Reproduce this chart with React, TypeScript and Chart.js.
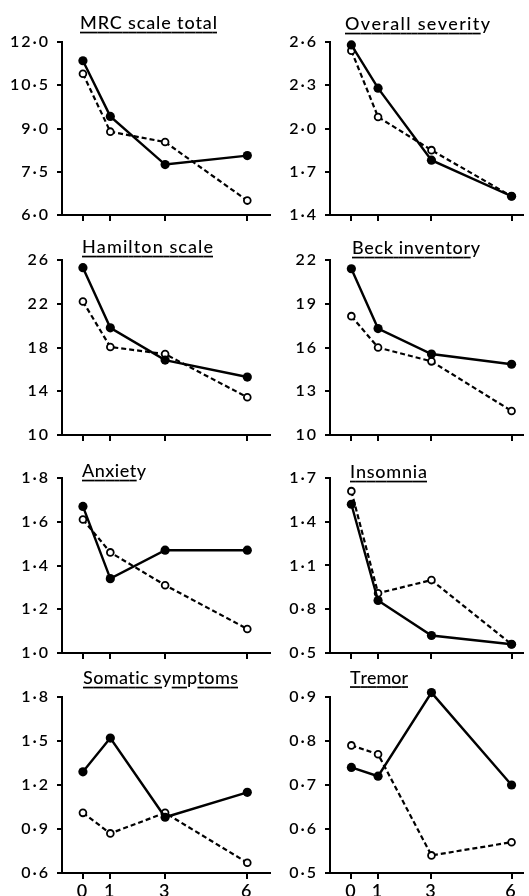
import React, { useEffect, useRef } from "react";
import { Chart, registerables } from "chart.js";

Chart.register(...registerables);

// ---------- data ----------
const months = [0, 1, 3, 6];
const monthLabels = ["0", "1", "3", "6"];

const mrcFilled = [11.35, 9.42, 7.75, 8.06];
const mrcOpen = [10.9, 8.89, 8.53, 6.5];
const mrcTicks = [6, 7.5, 9, 10.5, 12];
const mrcTickLabels = ["6·0", "7·5", "9·0", "10·5", "12·0"];

const severityFilled = [2.58, 2.28, 1.78, 1.53];
const severityOpen = [2.54, 2.08, 1.85, 1.53];
const severityTicks = [1.4, 1.7, 2.0, 2.3, 2.6];
const severityTickLabels = ["1·4", "1·7", "2·0", "2·3", "2·6"];

const hamiltonFilled = [25.3, 19.8, 16.85, 15.3];
const hamiltonOpen = [22.2, 18.05, 17.4, 13.45];
const hamiltonTicks = [10, 14, 18, 22, 26];
const hamiltonTickLabels = ["10", "14", "18", "22", "26"];

const beckFilled = [21.4, 17.3, 15.55, 14.85];
const beckOpen = [18.15, 16.0, 15.05, 11.65];
const beckTicks = [10, 13, 16, 19, 22];
const beckTickLabels = ["10", "13", "16", "19", "22"];

const anxietyFilled = [1.67, 1.34, 1.47, 1.47];
const anxietyOpen = [1.61, 1.46, 1.31, 1.11];
const anxietyTicks = [1.0, 1.2, 1.4, 1.6, 1.8];
const anxietyTickLabels = ["1·0", "1·2", "1·4", "1·6", "1·8"];

const insomniaFilled = [1.52, 0.86, 0.62, 0.56];
const insomniaOpen = [1.61, 0.91, 1.0, 0.56];
const insomniaTicks = [0.5, 0.8, 1.1, 1.4, 1.7];
const insomniaTickLabels = ["0·5", "0·8", "1·1", "1·4", "1·7"];

const somaticFilled = [1.29, 1.52, 0.98, 1.15];
const somaticOpen = [1.01, 0.87, 1.01, 0.67];
const somaticTicks = [0.6, 0.9, 1.2, 1.5, 1.8];
const somaticTickLabels = ["0·6", "0·9", "1·2", "1·5", "1·8"];

const tremorFilled = [0.74, 0.72, 0.91, 0.7];
const tremorOpen = [0.79, 0.77, 0.54, 0.57];
const tremorTicks = [0.5, 0.6, 0.7, 0.8, 0.9];
const tremorTickLabels = ["0·5", "0·6", "0·7", "0·8", "0·9"];

const titles = [
  "MRC scale total",
  "Overall severity",
  "Hamilton scale",
  "Beck inventory",
  "Anxiety",
  "Insomnia",
  "Somatic symptoms",
  "Tremor",
];

// ---------- layout (positions / sizes) ----------
const COLS = [
  { cx: 0, cw: 276, axisX: 62, plotRight: 271, xMin: -0.764, xMax: 6.836 },
  { cx: 262, cw: 267, axisX: 330, plotRight: 529, xMin: -0.8, xMax: 6.436 },
];
const ROWS = [
  { cy: 0, top: 42, bottom: 215, end: 239 },
  { cy: 225, top: 260, bottom: 435, end: 459 },
  { cy: 445, top: 478, bottom: 653, end: 677 },
  { cy: 663, top: 697, bottom: 873, end: 896 },
];
const TITLE_BOXES = [
  { x: 80, w: 137, base: 29, ul: 32.5 },
  { x: 345, w: 145, base: 30, ul: 33.5 },
  { x: 82, w: 131, base: 253, ul: 256.5 },
  { x: 352, w: 128, base: 254, ul: 257.5 },
  { x: 82, w: 64, base: 477, ul: 480.5 },
  { x: 350, w: 77, base: 478, ul: 481.5 },
  { x: 83, w: 155, base: 684, ul: 687.5 },
  { x: 350, w: 58, base: 684, ul: 687 },
];

const panels = [
  { filled: mrcFilled, open: mrcOpen, ticks: mrcTicks, labels: mrcTickLabels },
  { filled: severityFilled, open: severityOpen, ticks: severityTicks, labels: severityTickLabels },
  { filled: hamiltonFilled, open: hamiltonOpen, ticks: hamiltonTicks, labels: hamiltonTickLabels },
  { filled: beckFilled, open: beckOpen, ticks: beckTicks, labels: beckTickLabels },
  { filled: anxietyFilled, open: anxietyOpen, ticks: anxietyTicks, labels: anxietyTickLabels },
  { filled: insomniaFilled, open: insomniaOpen, ticks: insomniaTicks, labels: insomniaTickLabels },
  { filled: somaticFilled, open: somaticOpen, ticks: somaticTicks, labels: somaticTickLabels },
  { filled: tremorFilled, open: tremorOpen, ticks: tremorTicks, labels: tremorTickLabels },
];

const TITLE_FONT = "500 18px Lato";
const TICK_FAMILY = "Lato";

function Panel({ index }: { index: number }) {
  const ref = useRef<HTMLCanvasElement | null>(null);
  const col = COLS[index % 2];
  const row = ROWS[Math.floor(index / 2)];
  const isBottom = Math.floor(index / 2) === 3;
  const width = col.cw;
  const height = row.end - row.cy;

  useEffect(() => {
    const canvas = ref.current;
    if (!canvas) return;
    const p = panels[index];
    const tb = TITLE_BOXES[index];
    const title = titles[index];
    const xAxisH = row.end - row.bottom;

    const titlePlugin = {
      id: "panelTitle",
      beforeDraw(chart: any) {
        chart.ctx.letterSpacing = "2px";
      },
      afterDraw(chart: any) {
        const ctx = chart.ctx as CanvasRenderingContext2D;
        ctx.save();
        ctx.letterSpacing = "0px";
        ctx.font = TITLE_FONT;
        ctx.fillStyle = "#000";
        ctx.textAlign = "left";
        ctx.textBaseline = "alphabetic";
        const chars = Array.from(title);
        const widths = chars.map((c) => ctx.measureText(c).width);
        const natural = widths.reduce((a, b) => a + b, 0);
        let ls = (tb.w - natural) / (chars.length - 1);
        let sx = 1;
        if (ls < 0) {
          sx = tb.w / natural;
          ls = 0;
        }
        ctx.translate(tb.x - col.cx, 0);
        ctx.scale(sx, 1);
        const base = tb.base - row.cy;
        const ul = tb.ul - row.cy;
        let pos = 0;
        chars.forEach((c, i) => {
          ctx.fillText(c, pos, base);
          const w = widths[i];
          if (!/[gjpqy]/.test(c)) {
            const segEnd = i === chars.length - 1 ? pos + w : pos + w + ls;
            ctx.fillRect(pos, ul - 0.8, segEnd - pos, 1.7);
          }
          pos += w + ls;
        });
        ctx.restore();
      },
    };

    const chart = new Chart(canvas, {
      type: "line",
      data: {
        datasets: [
          {
            data: months.map((m, i) => ({ x: m, y: p.filled[i] })),
            borderColor: "#000",
            borderWidth: 2.4,
            pointRadius: 4.6,
            pointBackgroundColor: "#000",
            pointBorderColor: "#000",
            pointBorderWidth: 0,
            tension: 0,
            clip: false,
          },
          {
            data: months.map((m, i) => ({ x: m, y: p.open[i] })),
            borderColor: "#000",
            borderWidth: 2.2,
            borderDash: [5, 3],
            pointRadius: 3.4,
            pointBackgroundColor: "#fff",
            pointBorderColor: "#000",
            pointBorderWidth: 1.8,
            tension: 0,
            clip: false,
          },
        ],
      },
      options: {
        animation: false,
        responsive: false,
        maintainAspectRatio: false,
        events: [],
        layout: {
          padding: {
            top: row.top - row.cy,
            left: 0,
            right: col.cx + col.cw - col.plotRight,
            bottom: 0,
          },
        },
        plugins: {
          legend: { display: false },
          tooltip: { enabled: false },
          title: { display: false },
        },
        scales: {
          x: {
            type: "linear",
            position: "bottom",
            min: col.xMin,
            max: col.xMax,
            afterBuildTicks: (s: any) => {
              s.ticks = months.map((v) => ({ value: v }));
            },
            afterFit: (s: any) => {
              s.height = xAxisH;
            },
            grid: {
              drawOnChartArea: false,
              drawTicks: true,
              tickLength: 6,
              lineWidth: 2,
              color: "#000",
            },
            border: { display: true, color: "#000", width: 2 },
            ticks: {
              autoSkip: false,
              maxRotation: 0,
              padding: 1,
              color: "#000",
              font: { family: TICK_FAMILY, size: 18, weight: "600" },
              callback: (_v: any, i: number) => (isBottom ? monthLabels[i] : ""),
            },
          },
          y: {
            type: "linear",
            min: p.ticks[0],
            max: p.ticks[p.ticks.length - 1],
            afterBuildTicks: (s: any) => {
              s.ticks = p.ticks.map((v) => ({ value: v }));
            },
            afterFit: (s: any) => {
              s.width = col.axisX - col.cx;
            },
            grid: {
              drawOnChartArea: false,
              drawTicks: true,
              tickLength: 5,
              lineWidth: 2,
              color: "#000",
            },
            border: { display: true, color: "#000", width: 2 },
            ticks: {
              padding: 7,
              color: "#000",
              font: { family: TICK_FAMILY, size: 16, weight: "600" },
              callback: (_v: any, i: number) => p.labels[i],
            },
          },
        },
      },
      plugins: [titlePlugin],
    } as any);

    return () => chart.destroy();
  }, [index]);

  return (
    <canvas
      ref={ref}
      width={width}
      height={height}
      style={{
        position: "absolute",
        left: col.cx,
        top: row.cy,
        width,
        height,
      }}
    />
  );
}

export default function App() {
  return (
    <div
      style={{
        position: "absolute",
        left: 0,
        top: 0,
        width: 529,
        height: 896,
        background: "#fff",
        overflow: "hidden",
      }}
    >
      {panels.map((_, i) => (
        <Panel key={i} index={i} />
      ))}
    </div>
  );
}
